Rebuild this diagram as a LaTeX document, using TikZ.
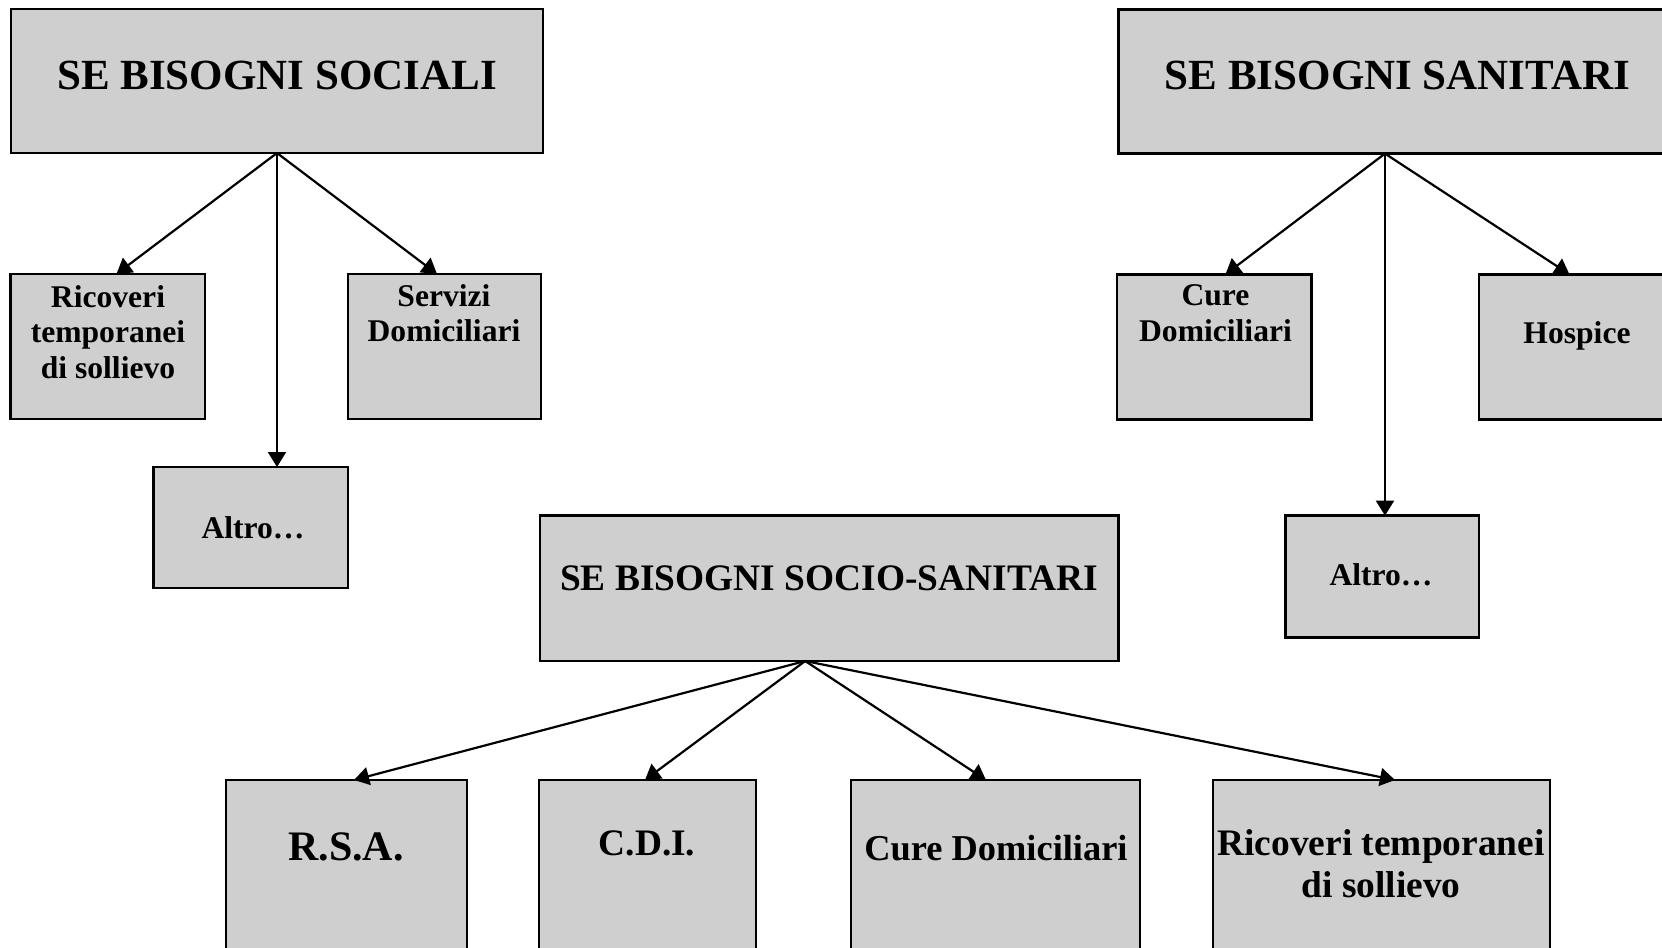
\documentclass[tikz,border=0pt]{standalone}
\usepackage{fontspec}
\setmainfont{Liberation Serif}
\usetikzlibrary{arrows.meta,calc}
\definecolor{boxgray}{gray}{0.81}
\begin{document}
\begin{tikzpicture}[x=0.5pt,y=-0.5pt,
  box/.style={draw=black, line width=1.4pt, fill=boxgray, inner sep=0pt, outer sep=0pt, anchor=north west},
  tbig/.style={inner sep=0pt, align=center, font=\bfseries\fontsize{21.5}{24}\selectfont},
  tmid/.style={inner sep=0pt, align=center, font=\bfseries\fontsize{15.8}{17.75}\selectfont},
  tlow/.style={inner sep=0pt, align=center, font=\bfseries\fontsize{18.7}{21}\selectfont},
  arr/.style={line width=1.1pt, -{Triangle[length=7.5pt,width=9pt]}},
]
\useasboundingbox (0,0) rectangle (1662,948);
\clip (0,0) rectangle (1662,948);
\fill[white] (0,0) rectangle (1662,948);

% boxes
\node[box, minimum width=266pt, minimum height=72pt] (soc) at (11,9) {};
\node[box, minimum width=97.25pt, minimum height=72.5pt] (ric1) at (10.5,274) {};
\node[box, minimum width=96.5pt, minimum height=72.5pt] (serv) at (348,274) {};
\node[box, minimum width=97.15pt, minimum height=60.5pt] (alt1) at (153.7,467) {};
\node[box, minimum width=279.2pt, minimum height=72.15pt] (san) at (1118.6,9.3) {};
\node[box, minimum width=97.25pt, minimum height=72.6pt] (cure1) at (1117,274.4) {};
\node[box, minimum width=98pt, minimum height=72.6pt] (hosp) at (1479,274.4) {};
\node[box, minimum width=96.65pt, minimum height=61pt] (alt2) at (1285.7,515.6) {};
\node[box, minimum width=289.2pt, minimum height=72.75pt] (socio) at (540,515.5) {};
\node[box, minimum width=120.5pt, minimum height=100pt] (rsa) at (226,780) {};
\node[box, minimum width=108.5pt, minimum height=100pt] (cdi) at (539,780) {};
\node[box, minimum width=144.5pt, minimum height=100pt] (cure2) at (851,780) {};
\node[box, minimum width=168.5pt, minimum height=100pt] (ric2) at (1213,780) {};

% texts
\node[tbig, anchor=base] (soc-t) at (277,89.5) {SE BISOGNI SOCIALI};
\node[tmid, anchor=north] (ric1-t) at (108,285) {Ricoveri\\temporanei\\di sollievo};
\node[tmid, anchor=north] (serv-t) at (444,284) {Servizi\\Domiciliari};
\node[tmid, anchor=base] (alt1-t) at (253,538) {Altro…};
\node[tbig, anchor=base] (san-t) at (1397.5,89) {SE BISOGNI SANITARI};
\node[tmid, anchor=north] (cure1-t) at (1215.5,284.6) {Cure\\Domiciliari};
\node[tmid, anchor=base] (hosp-t) at (1577,343) {Hospice};
\node[tmid, anchor=base] (alt2-t) at (1381,585) {Altro…};
\node[tlow, anchor=base] (socio-t) at (829,590) {SE BISOGNI SOCIO-SANITARI};
\node[tlow, font=\bfseries\fontsize{21}{24}\selectfont, anchor=base] (rsa-t) at (346,860) {R.S.A.};
\node[tlow, anchor=base] (cdi-t) at (647,855) {C.D.I.};
\node[tlow, font=\bfseries\fontsize{18.2}{21}\selectfont, anchor=base] (cure2-t) at (996,860) {Cure Domiciliari};
\node[tlow, anchor=north] (ric2-t) at (1381,829.5) {Ricoveri temporanei\\di sollievo};

% connectors
\coordinate (socO) at (soc.south);
\coordinate (sanO) at ($(san.south)+(-12.8,0)$);
\coordinate (socioO) at ($(socio.south)+(-24,0)$);

\draw[arr] (socO) -- ($(ric1.north)+(8.75,0)$);
\draw[arr] (socO) -- (socO |- alt1.north);
\draw[arr] (socO) -- ($(serv.north)+(-7.5,0)$);

\draw[arr] (sanO) -- ($(cure1.north)+(11.2,0)$);
\draw[arr] (sanO) -- (sanO |- alt2.north);
\draw[arr] (sanO) -- ($(hosp.north)+(-7.5,0)$);

\draw[arr] (socioO) -- ($(rsa.north)+(7.5,0)$);
\draw[arr] (socioO) -- ($(cdi.north)+(-2.5,0)$);
\draw[arr] (socioO) -- ($(cure2.north)+(-9.5,0)$);
\draw[arr] (socioO) -- ($(ric2.north)+(13.5,0)$);
\end{tikzpicture}
\end{document}
